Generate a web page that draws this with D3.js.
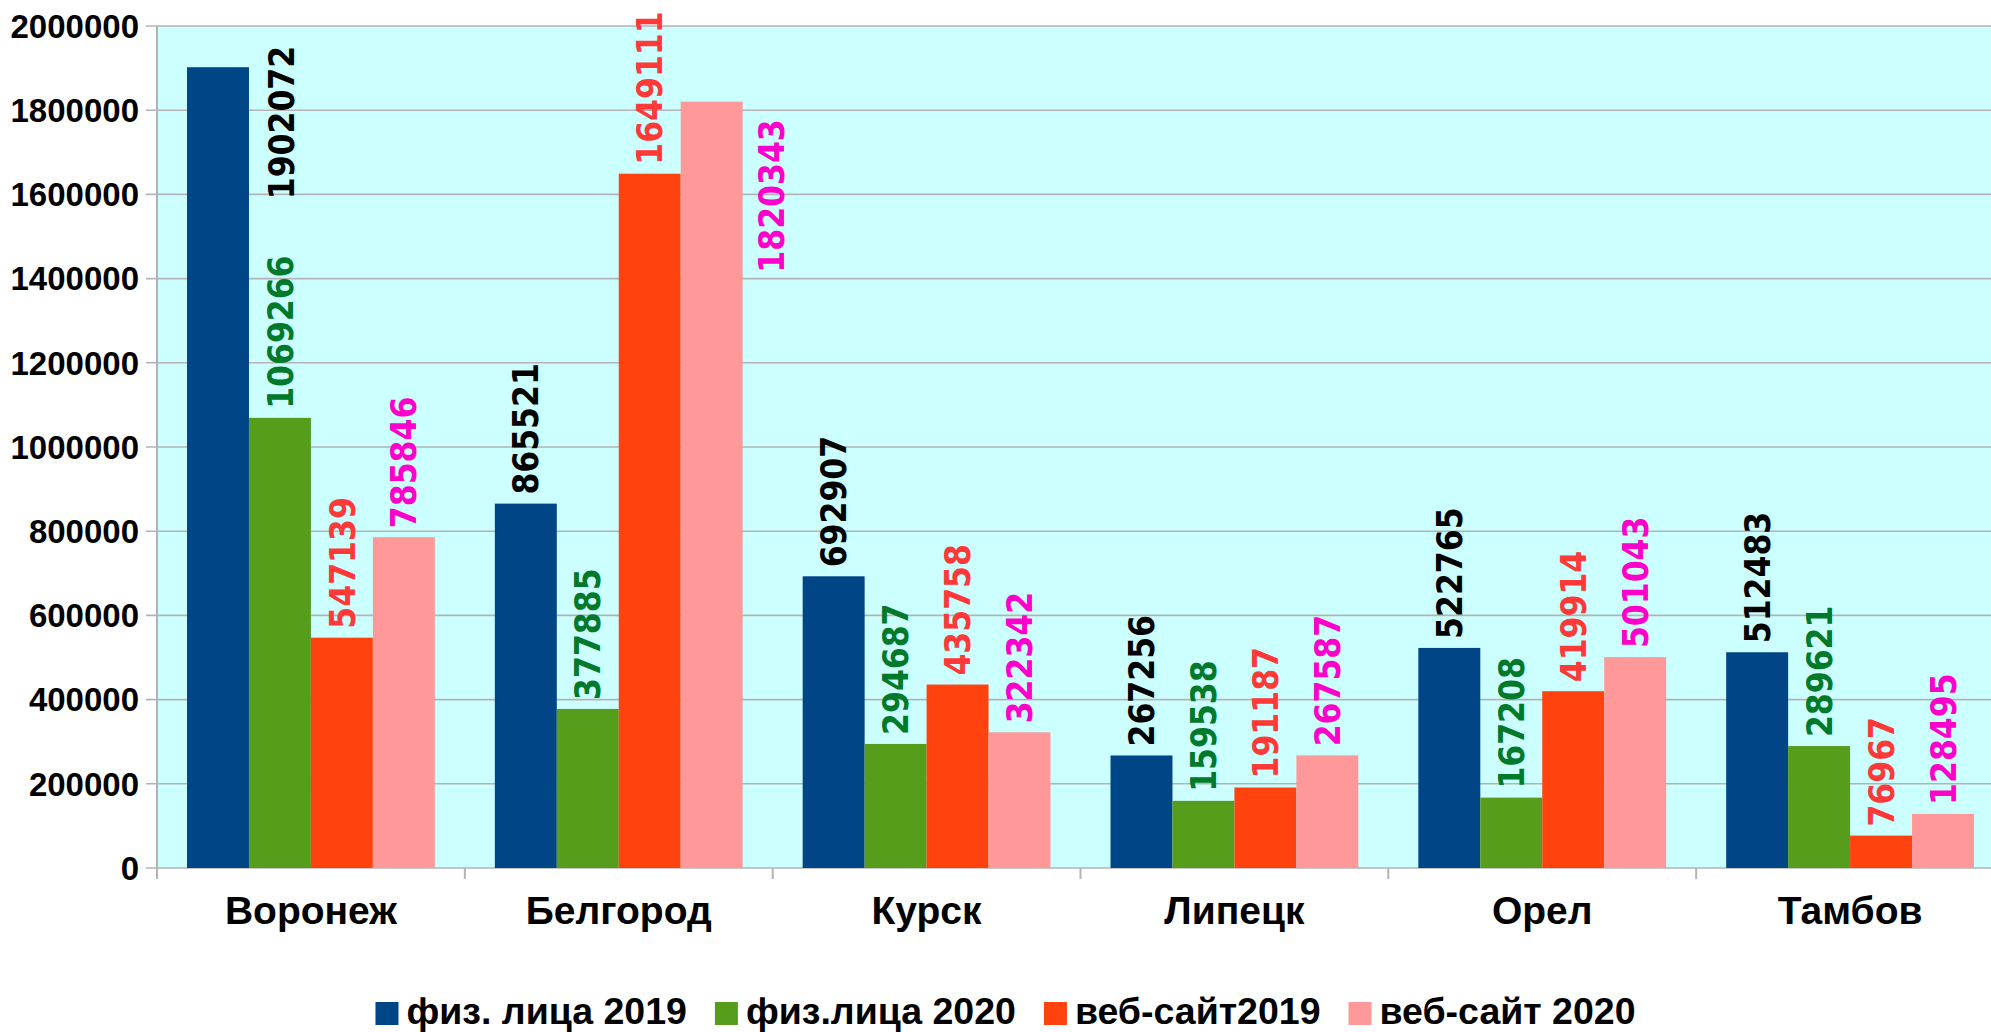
<!DOCTYPE html>
<html>
<head>
<meta charset="utf-8">
<script src="https://cdn.jsdelivr.net/npm/d3@7"></script>
<style>
  html, body { margin: 0; padding: 0; background: #ffffff; }
  svg { display: block; }
</style>
</head>
<body>
<svg id="chart" width="1991" height="1032"></svg>
<script>
// ---- DATA ----
const categories = ["Воронеж", "Белгород", "Курск", "Липецк", "Орел", "Тамбов"];
const seriesNames = ["физ. лица 2019", "физ.лица 2020", "веб-сайт2019", "веб-сайт 2020"];
const fiz2019 = [1902072, 865521, 692907, 267256, 522765, 512483];
const fiz2020 = [1069266, 377885, 294687, 159538, 167208, 289621];
const web2019 = [547139, 1649111, 435758, 191187, 419914, 76967];
const web2020 = [785846, 1820343, 322342, 267587, 501043, 128495];
const yTicks = [0, 200000, 400000, 600000, 800000, 1000000, 1200000, 1400000, 1600000, 1800000, 2000000];

// ---- STYLE ----
const barColors = ["#004586", "#579d1c", "#ff420e", "#ff9999"];
const labelColors = ["#000000", "#007a2a", "#ff3838", "#ff00cc"];
// labels that did not fit above their bar: shift right by dx bars, text start dy px below bar top
const labelNudge = { "0-0": { dx: 1.03, dy: 132 }, "1-3": { dx: 0.97, dy: 171 } };

const series = [fiz2019, fiz2020, web2019, web2020];
const plot = { left: 157, right: 2004, top: 26, bottom: 868 };

const svg = d3.select("#chart");

const x0 = d3.scaleBand().domain(categories).range([plot.left, plot.right])
  .paddingInner(0.195).paddingOuter(0.0975);
const x1 = d3.scaleBand().domain(d3.range(series.length)).range([0, x0.bandwidth()]).padding(0);
const y = d3.scaleLinear().domain([0, 2000000]).range([plot.bottom, plot.top]);

// background
svg.append("rect").attr("x", plot.left).attr("y", plot.top)
  .attr("width", plot.right - plot.left).attr("height", plot.bottom - plot.top)
  .attr("fill", "#ccffff");

// gridlines
svg.append("g").selectAll("line").data(yTicks).join("line")
  .attr("x1", plot.left - 11).attr("x2", plot.right)
  .attr("y1", d => y(d)).attr("y2", d => y(d))
  .attr("stroke", "#b3b3b3").attr("stroke-width", 1.6);

// y axis line
svg.append("line").attr("x1", plot.left).attr("x2", plot.left)
  .attr("y1", plot.top).attr("y2", plot.bottom + 11)
  .attr("stroke", "#b3b3b3").attr("stroke-width", 2);

// y tick labels
svg.append("g").selectAll("text").data(yTicks).join("text")
  .attr("x", 139).attr("y", d => y(d))
  .attr("dy", "0.36em")
  .attr("text-anchor", "end")
  .attr("font-family", "'Liberation Sans', Arial, sans-serif")
  .attr("font-weight", "bold").attr("font-size", 33)
  .attr("fill", "#000").text(d => d);

// x category boundary ticks
const step = x0.step();
const boundaries = d3.range(categories.length + 1).map(i => plot.left + i * step);
svg.append("g").selectAll("line").data(boundaries).join("line")
  .attr("x1", d => d).attr("x2", d => d)
  .attr("y1", plot.bottom).attr("y2", plot.bottom + 11)
  .attr("stroke", "#b3b3b3").attr("stroke-width", 2);

// bars
const groups = svg.append("g").selectAll("g").data(categories).join("g")
  .attr("transform", c => `translate(${x0(c)},0)`);

groups.selectAll("rect").data((c, ci) => series.map((s, si) => ({ si, ci, v: s[ci] })))
  .join("rect")
  .attr("x", d => x1(d.si)).attr("width", x1.bandwidth())
  .attr("y", d => y(d.v)).attr("height", d => y(0) - y(d.v))
  .attr("fill", d => barColors[d.si]);

// value labels
groups.selectAll("text").data((c, ci) => series.map((s, si) => ({ si, ci, v: s[ci] })))
  .join("text")
  .attr("transform", d => {
    const n = labelNudge[d.ci + "-" + d.si];
    const cx = x1(d.si) + x1.bandwidth() / 2 + (n ? n.dx * x1.bandwidth() : 0);
    const sy = n ? y(d.v) + n.dy : y(d.v) - 9;
    return `translate(${cx},${sy}) rotate(-90)`;
  })
  .attr("dy", "0.36em")
  .attr("text-anchor", "start")
  .attr("font-family", "'DejaVu Sans Condensed', 'DejaVu Sans', sans-serif")
  .attr("font-stretch", "condensed")
  .attr("font-weight", "bold").attr("font-size", 35)
  .attr("fill", d => labelColors[d.si])
  .text(d => d.v);

// category labels
svg.append("g").selectAll("text").data(categories).join("text")
  .attr("x", c => x0(c) + x0.bandwidth() / 2).attr("y", 924)
  .attr("text-anchor", "middle")
  .attr("font-family", "'Liberation Sans', Arial, sans-serif")
  .attr("font-weight", "bold").attr("font-size", 39)
  .attr("fill", "#000").text(c => c);

// legend
const legend = svg.append("g");
const items = legend.selectAll("g").data(seriesNames).join("g");
items.append("rect").attr("width", 23).attr("height", 23).attr("y", -22)
  .attr("fill", (d, i) => barColors[i]);
items.append("text").attr("x", 31).attr("y", 0)
  .attr("font-family", "'Liberation Sans', Arial, sans-serif")
  .attr("font-weight", "bold").attr("font-size", 37.5)
  .attr("fill", "#000").text(d => d);
let xpos = 0;
const gap = 28;
items.each(function () {
  const w = 31 + this.querySelector("text").getComputedTextLength();
  d3.select(this).attr("transform", `translate(${xpos},0)`);
  xpos += w + gap;
});
const totalW = xpos - gap;
legend.attr("transform", `translate(${(364 + 1647) / 2 - totalW / 2},1024)`);
</script>
</body>
</html>
